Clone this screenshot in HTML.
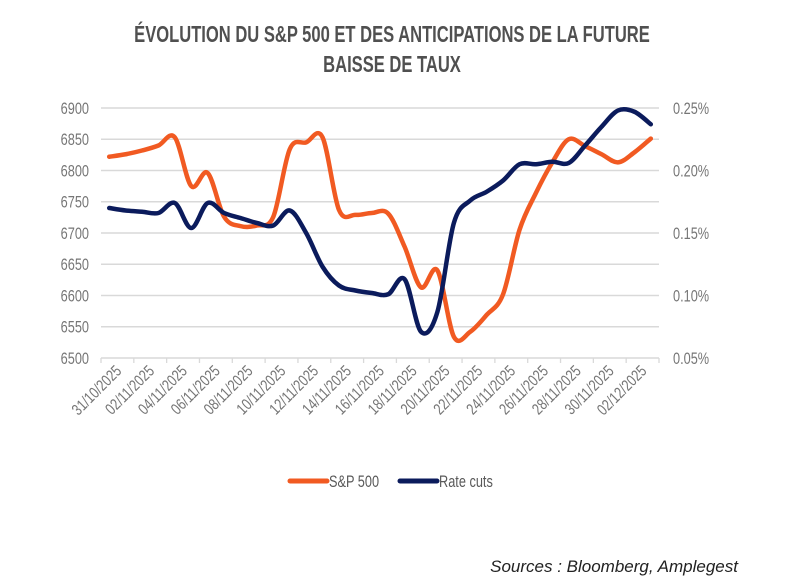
<!DOCTYPE html>
<html><head><meta charset="utf-8">
<style>
html,body{margin:0;padding:0;background:#fff;}
svg{display:block;font-family:"Liberation Sans",sans-serif;}
</style></head>
<body>
<svg id="chart" width="787" height="588" viewBox="0 0 787 588" xmlns="http://www.w3.org/2000/svg">
<g fill="#505050" font-weight="bold" font-size="23" text-anchor="middle">
<text x="392" y="42" transform="translate(392 0) scale(0.72 1) translate(-392 0)">ÉVOLUTION DU S&amp;P 500 ET DES ANTICIPATIONS DE LA FUTURE</text>
<text x="392" y="72" transform="translate(392 0) scale(0.72 1) translate(-392 0)">BAISSE DE TAUX</text>
</g>
<g id="grid"></g>
<g id="yleft" fill="#767676" font-size="17" text-anchor="end"></g>
<g id="yright" fill="#767676" font-size="17" text-anchor="start"></g>
<g id="xaxis" fill="#767676" font-size="16"></g>
<g id="series"></g>
<g font-size="17" fill="#595959">
<g>
<line x1="290" y1="481" x2="327" y2="481" stroke="#F15A22" stroke-width="5" stroke-linecap="round"/>
<text x="329" y="487" transform="translate(329 0) scale(0.75 1) translate(-329 0)">S&amp;P 500</text>
</g>
<g>
<line x1="400" y1="481" x2="437" y2="481" stroke="#0B1B5C" stroke-width="5" stroke-linecap="round"/>
<text x="439" y="487" transform="translate(439 0) scale(0.75 1) translate(-439 0)">Rate cuts</text>
</g>
</g>
<text x="738" y="572" text-anchor="end" font-style="italic" font-size="17" fill="#222">Sources : Bloomberg, Amplegest</text>
</svg>
<script>
const dateLabels = ["31/10/2025","02/11/2025","04/11/2025","06/11/2025","08/11/2025","10/11/2025","12/11/2025","14/11/2025","16/11/2025","18/11/2025","20/11/2025","22/11/2025","24/11/2025","26/11/2025","28/11/2025","30/11/2025","02/12/2025"];
const leftTicks = [6500,6550,6600,6650,6700,6750,6800,6850,6900];
const rightTicks = [0.05,0.10,0.15,0.20,0.25];
const spValues = [6822,6826,6832,6840,6853,6775,6796,6726,6711,6712,6726,6834,6845,6853,6737,6729,6732,6731,6678,6613,6640,6534,6542,6569,6602,6705,6764,6813,6850,6839,6826,6813,6829,6851];
const rateValues = [0.170,0.168,0.167,0.166,0.174,0.154,0.174,0.166,0.162,0.158,0.156,0.168,0.150,0.123,0.108,0.104,0.102,0.101,0.113,0.071,0.087,0.158,0.176,0.183,0.192,0.205,0.205,0.207,0.206,0.220,0.235,0.248,0.247,0.237];

const NS="http://www.w3.org/2000/svg";
const X0=101, X1=659, YT=108, YB=358;
const dayW=(X1-X0)/34;
function xDay(i){return X0+(i+0.5)*dayW;}
function yLeft(v){return YB-(v-6500)/400*(YB-YT);}
function yRight(v){return YB-(v-0.05)/0.20*(YB-YT);}
function mk(tag,attrs,parent){const e=document.createElementNS(NS,tag);for(const k in attrs)e.setAttribute(k,attrs[k]);parent.appendChild(e);return e;}

const grid=document.getElementById('grid');
const yl=document.getElementById('yleft');
leftTicks.forEach(v=>{
  const y=yLeft(v);
  if(v>6500){const l=mk('line',{x1:X0,x2:X1,y1:y,y2:y,stroke:'#d9d9d9','stroke-width':1.5},grid);
  
  }
  const t=mk('text',{x:89,y:y+6,transform:`translate(89 0) scale(0.75 1) translate(-89 0)`},yl);
  t.textContent=v;
  
  
});
const yr=document.getElementById('yright');
rightTicks.forEach(v=>{
  const y=yRight(v);
  const t=mk('text',{x:673,y:y+6,transform:`translate(673 0) scale(0.75 1) translate(-673 0)`},yr);
  t.textContent=v.toFixed(2)+'%';
  
  
});
const xa=document.getElementById('xaxis');
const axl=mk('line',{x1:X0,x2:X1,y1:YB,y2:YB,stroke:'#d9d9d9','stroke-width':1.5},xa);


for(let k=0;k<=dateLabels.length;k++){
  const x=X0+k*2*dayW;
  const tk=mk('line',{x1:x,x2:x,y1:YB,y2:YB+5,stroke:'#d9d9d9','stroke-width':1.3},xa);
  
  
}
dateLabels.forEach((d,k)=>{
  const x=X0+(k+0.5)*2*dayW+5, y=372;
  const t=mk('text',{x:x,y:y,'text-anchor':'end',transform:`rotate(-45 ${x} ${y}) translate(${x} 0) scale(0.78 1) translate(${-x} 0)`},xa);
  t.textContent=d;
  
  
});
function smooth(pts){
  let d=`M${pts[0][0]},${pts[0][1]}`;
  for(let i=0;i<pts.length-1;i++){
    const p0=pts[Math.max(0,i-1)],p1=pts[i],p2=pts[i+1],p3=pts[Math.min(pts.length-1,i+2)];
    const c1=[p1[0]+(p2[0]-p0[0])/6,p1[1]+(p2[1]-p0[1])/6];
    const c2=[p2[0]-(p3[0]-p1[0])/6,p2[1]-(p3[1]-p1[1])/6];
    d+=` C${c1[0]},${c1[1]} ${c2[0]},${c2[1]} ${p2[0]},${p2[1]}`;
  }
  return d;
}
const ser=document.getElementById('series');
const sp=mk('path',{d:smooth(spValues.map((v,i)=>[xDay(i),yLeft(v)])),fill:'none',stroke:'#F15A22','stroke-width':4.5,'stroke-linecap':'round','stroke-linejoin':'round'},ser);


const rc=mk('path',{d:smooth(rateValues.map((v,i)=>[xDay(i),yRight(v)])),fill:'none',stroke:'#0B1B5C','stroke-width':4.5,'stroke-linecap':'round','stroke-linejoin':'round'},ser);


</script>
</body></html>
